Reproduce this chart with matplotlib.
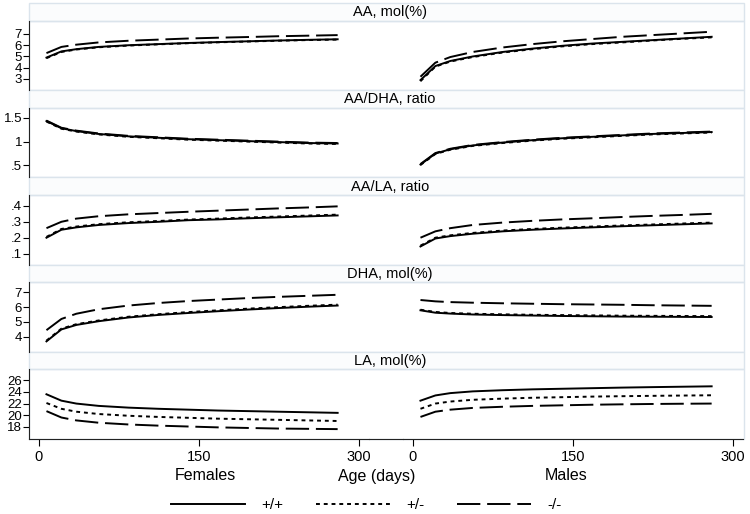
import numpy as np
import matplotlib.pyplot as plt
from matplotlib.patches import Rectangle
from matplotlib.lines import Line2D

# age in days at which the fitted curves are drawn
age = [7, 21, 35, 56, 84, 112, 140, 168, 196, 224, 252, 280]

genotypes = ['+/+', '+/-', '-/-']
panels = ['AA, mol(%)', 'AA/DHA, ratio', 'AA/LA, ratio', 'DHA, mol(%)', 'LA, mol(%)']

# females
f_aa_ww = [4.9, 5.45, 5.65, 5.85, 6.0, 6.1, 6.2, 6.28, 6.35, 6.42, 6.48, 6.53]
f_aa_wm = [4.85, 5.4, 5.62, 5.82, 5.97, 6.08, 6.18, 6.26, 6.33, 6.4, 6.46, 6.5]
f_aa_mm = [5.3, 5.85, 6.05, 6.25, 6.4, 6.5, 6.6, 6.67, 6.73, 6.8, 6.85, 6.9]

f_ad_ww = [1.43, 1.28, 1.22, 1.16, 1.11, 1.08, 1.05, 1.03, 1.01, 0.99, 0.97, 0.96]
f_ad_wm = [1.42, 1.27, 1.21, 1.15, 1.10, 1.07, 1.04, 1.02, 1.00, 0.98, 0.96, 0.95]
f_ad_mm = [1.44, 1.29, 1.23, 1.17, 1.12, 1.09, 1.06, 1.04, 1.02, 1.0, 0.98, 0.97]

f_al_ww = [0.20, 0.25, 0.265, 0.28, 0.292, 0.30, 0.31, 0.315, 0.322, 0.328, 0.334, 0.34]
f_al_wm = [0.205, 0.255, 0.27, 0.285, 0.297, 0.305, 0.314, 0.32, 0.327, 0.333, 0.339, 0.345]
f_al_mm = [0.26, 0.30, 0.32, 0.335, 0.347, 0.355, 0.363, 0.37, 0.377, 0.384, 0.39, 0.397]

f_dha_ww = [3.7, 4.5, 4.8, 5.05, 5.3, 5.47, 5.6, 5.72, 5.83, 5.93, 6.02, 6.1]
f_dha_wm = [3.75, 4.55, 4.85, 5.1, 5.35, 5.52, 5.66, 5.78, 5.89, 5.99, 6.08, 6.16]
f_dha_mm = [4.45, 5.2, 5.55, 5.85, 6.1, 6.27, 6.4, 6.5, 6.6, 6.68, 6.75, 6.82]

f_la_ww = [23.6, 22.5, 22.0, 21.6, 21.3, 21.1, 20.95, 20.8, 20.7, 20.6, 20.5, 20.4]
f_la_wm = [22.1, 21.1, 20.6, 20.2, 19.9, 19.7, 19.55, 19.4, 19.3, 19.2, 19.1, 19.0]
f_la_mm = [20.7, 19.6, 19.1, 18.7, 18.4, 18.2, 18.05, 17.9, 17.8, 17.7, 17.65, 17.6]

# males
m_aa_ww = [2.9, 4.15, 4.6, 5.0, 5.4, 5.7, 5.95, 6.15, 6.3, 6.45, 6.6, 6.75]
m_aa_wm = [2.8, 4.1, 4.55, 4.95, 5.35, 5.65, 5.9, 6.1, 6.25, 6.42, 6.57, 6.7]
m_aa_mm = [3.2, 4.45, 4.95, 5.4, 5.8, 6.1, 6.35, 6.55, 6.75, 6.9, 7.05, 7.2]

m_ad_ww = [0.52, 0.75, 0.84, 0.92, 0.98, 1.03, 1.07, 1.1, 1.13, 1.16, 1.18, 1.2]
m_ad_wm = [0.51, 0.74, 0.83, 0.91, 0.97, 1.02, 1.06, 1.09, 1.12, 1.15, 1.17, 1.19]
m_ad_mm = [0.53, 0.76, 0.85, 0.93, 0.99, 1.04, 1.08, 1.11, 1.14, 1.17, 1.19, 1.21]

m_al_ww = [0.145, 0.195, 0.21, 0.225, 0.24, 0.25, 0.258, 0.265, 0.272, 0.278, 0.284, 0.29]
m_al_wm = [0.15, 0.20, 0.215, 0.23, 0.245, 0.255, 0.263, 0.27, 0.277, 0.283, 0.289, 0.295]
m_al_mm = [0.20, 0.24, 0.26, 0.28, 0.295, 0.306, 0.315, 0.322, 0.33, 0.337, 0.343, 0.35]

m_dha_ww = [5.78, 5.62, 5.56, 5.5, 5.46, 5.43, 5.4, 5.38, 5.36, 5.35, 5.34, 5.33]
m_dha_wm = [5.82, 5.67, 5.6, 5.55, 5.51, 5.48, 5.46, 5.44, 5.42, 5.41, 5.4, 5.39]
m_dha_mm = [6.47, 6.38, 6.33, 6.29, 6.25, 6.22, 6.19, 6.17, 6.15, 6.12, 6.1, 6.08]

m_la_ww = [22.5, 23.4, 23.8, 24.1, 24.3, 24.45, 24.55, 24.65, 24.75, 24.83, 24.9, 24.97]
m_la_wm = [21.1, 22.0, 22.35, 22.65, 22.85, 23.0, 23.1, 23.2, 23.27, 23.33, 23.38, 23.43]
m_la_mm = [19.7, 20.6, 20.95, 21.25, 21.45, 21.6, 21.7, 21.8, 21.87, 21.93, 21.97, 22.0]

female = [[f_aa_ww, f_aa_wm, f_aa_mm], [f_ad_ww, f_ad_wm, f_ad_mm], [f_al_ww, f_al_wm, f_al_mm],
          [f_dha_ww, f_dha_wm, f_dha_mm], [f_la_ww, f_la_wm, f_la_mm]]
male = [[m_aa_ww, m_aa_wm, m_aa_mm], [m_ad_ww, m_ad_wm, m_ad_mm], [m_al_ww, m_al_wm, m_al_mm],
        [m_dha_ww, m_dha_wm, m_dha_mm], [m_la_ww, m_la_wm, m_la_mm]]

yticks = [[3, 4, 5, 6, 7], [0.5, 1, 1.5], [0.1, 0.2, 0.3, 0.4], [4, 5, 6, 7], [18, 20, 22, 24, 26]]
ytlabels = [['3', '4', '5', '6', '7'], ['.5', '1', '1.5'], ['.1', '.2', '.3', '.4'],
            ['4', '5', '6', '7'], ['18', '20', '22', '24', '26']]
ylims = [(2.0, 8.2), (0.25, 1.71), (0.031, 0.469), (3.0, 7.67), (15.9, 27.9)]

styles = [dict(ls='-'), dict(ls=(0, (2, 2))), dict(ls=(0, (12, 3.5)))]

W, H = 750, 514
fig = plt.figure(figsize=(7.5, 5.14), dpi=100)
fig.patch.set_facecolor('white')
plt.rcParams['font.family'] = ['Liberation Sans', 'DejaVu Sans']

edge = '#dbe4ec'
xl = (-9.375, 309.4)

def fx(px):
    return px / W

def fy(py):
    return 1 - py / H

for r in range(5):
    top = 3 + r * 87.2
    strip_bot = top + 17.5
    plot_bot = top + 87.2
    # header strip
    fig.add_artist(Rectangle((fx(29), fy(strip_bot)), fx(744) - fx(29), fy(top) - fy(strip_bot),
                             transform=fig.transFigure, facecolor='#fbfcfd', edgecolor=edge, lw=1,
                             zorder=-5))
    fig.text(fx(390), fy((top + strip_bot) / 2 + 0.5), panels[r], ha='center', va='center', fontsize=10.5)
    # plot region outline
    fig.add_artist(Rectangle((fx(29), fy(plot_bot)), fx(744) - fx(29), fy(strip_bot) - fy(plot_bot),
                             transform=fig.transFigure, facecolor='none', edgecolor=edge, lw=1,
                             zorder=-5))
    for c, (x0, x1) in enumerate([(29, 369), (403, 743)]):
        ax = fig.add_axes([fx(x0), fy(plot_bot), fx(x1) - fx(x0), fy(strip_bot) - fy(plot_bot)])
        ax.set_facecolor('none')
        data = female[r] if c == 0 else male[r]
        for vals, st in zip(data, styles):
            ax.plot(age, vals, color='black', lw=1.4, **st)
        ax.set_xlim(*xl)
        ax.set_ylim(*ylims[r])
        for s in ax.spines.values():
            s.set_visible(False)
        if c == 0:
            ax.spines['left'].set_visible(True)
            ax.spines['left'].set_color('#222222')
            ax.set_yticks(yticks[r])
            ax.set_yticklabels(ytlabels[r], fontsize=9.5)
            ax.tick_params(axis='y', length=4, width=0.8, pad=1)
        else:
            ax.set_yticks([])
        if r == 4:
            ax.spines['bottom'].set_visible(True)
            ax.spines['bottom'].set_color('#222222')
            ax.set_xticks([0, 150, 300])
            ax.set_xticklabels(['0', '150', '300'], fontsize=10.5)
            ax.tick_params(axis='x', length=5, width=0.8, pad=3)
        else:
            ax.set_xticks([])

# continuous bottom axis line across the panel gap
yb = fy(3 + 5 * 87.2)
fig.add_artist(Line2D([fx(369), fx(403)], [yb, yb], transform=fig.transFigure, color='#222222', lw=0.8))
fig.text(fx(205), fy(476), 'Females', ha='center', va='center', fontsize=11.5)
fig.text(fx(377), fy(476), 'Age (days)', ha='center', va='center', fontsize=11.5)
fig.text(fx(566), fy(476), 'Males', ha='center', va='center', fontsize=11.5)

handles = [Line2D([], [], color='black', lw=1.4, **st) for st in styles]
fig.legend(handles, genotypes, loc='center', bbox_to_anchor=(fx(366), fy(505)), ncol=3,
           frameon=False, handlelength=4.85, columnspacing=2.15, handletextpad=1.05, fontsize=11)

fig.savefig('out.png', dpi=100)
